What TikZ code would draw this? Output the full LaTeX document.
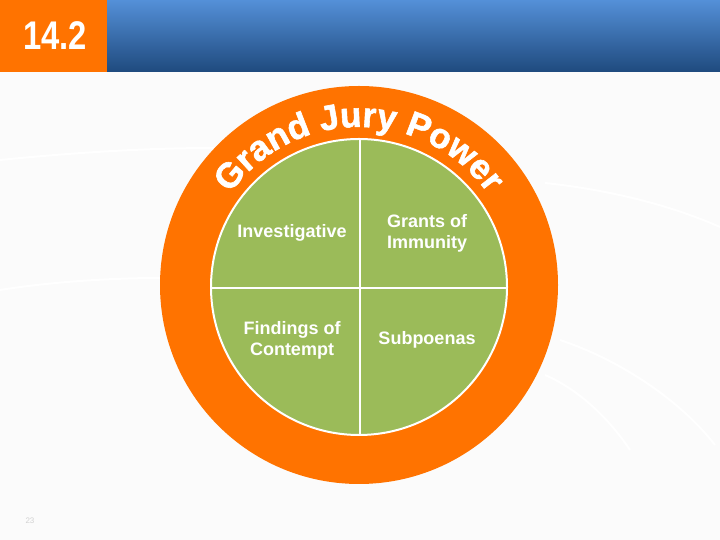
\documentclass[tikz,border=0pt]{standalone}
\usepackage{fontspec}
\setmainfont{Liberation Sans}
\newfontfamily\heavyfam[BoldFeatures={FakeBold=1.6}]{Liberation Sans}
\usepackage{graphicx}
\usetikzlibrary{decorations.text}
\definecolor{orng}{HTML}{FF7300}
\definecolor{grn}{HTML}{9BBB59}
\definecolor{bluetop}{HTML}{5490D8}
\definecolor{bluebot}{HTML}{1F4A7E}
\definecolor{bgc}{HTML}{FBFBFB}
\newcommand\gjpfont{\heavyfam\fontsize{35}{35}\selectfont\bfseries}
\tikzset{
  quad/.style={text=white, font=\fontsize{18}{21}\selectfont\bfseries, align=center},
  divider/.style={white, line width=2pt},
  bgline/.style={white, line width=2pt}
}
\begin{document}
\begin{tikzpicture}[x=1pt,y=1pt]
\useasboundingbox (0,0) rectangle (720,540);
\fill[bgc] (0,0) rectangle (720,540);
% faint background lines
\draw[bgline] (0,380) .. controls (80,388) and (150,392) .. (215,392);
\draw[bgline] (545,357) .. controls (610,350) and (670,335) .. (720,313);
\draw[bgline] (560,200) .. controls (620,180) and (680,140) .. (715,95);
\draw[bgline] (545,165) .. controls (580,150) and (610,120) .. (630,90);
\draw[bgline] (0,250) .. controls (50,258) and (110,262) .. (160,262);
% header
\fill[orng] (0,468) rectangle (107,540);
\shade[top color=bluetop, bottom color=bluebot] (107,468) rectangle (720,540);
\node[text=white, font=\fontsize{40}{40}\selectfont\bfseries] (num) at (55,504) {\scalebox{0.82}[1]{14.2}};
% circles
\fill[orng] (359,255) circle (199);
\fill[grn, draw=white, line width=2pt] (359,253) circle (148);
\coordinate (top) at (360,401);
\coordinate (bot) at (360,105);
\coordinate (lft) at (211,252);
\coordinate (rgt) at (507,252);
\draw[divider] (top) -- (bot);
\draw[divider] (lft) -- (rgt);
% curved title
\path[decorate, decoration={text along path, text align=center, text color=white,
  text={|\gjpfont|Grand Jury Power}}] (359,255) ++(170:158) arc (170:10:158);
% quadrant labels
\node[quad] (inv) at (292,307) {Investigative};
\node[quad] (gra) at (427,307) {Grants of\\Immunity};
\node[quad] (fin) at (292,200) {Findings of\\Contempt};
\node[quad] (sub) at (427,200) {Subpoenas};
% page number
\node[text=gray!35, font=\fontsize{8}{8}\selectfont] (pg) at (30,19) {23};
\end{tikzpicture}
\end{document}
